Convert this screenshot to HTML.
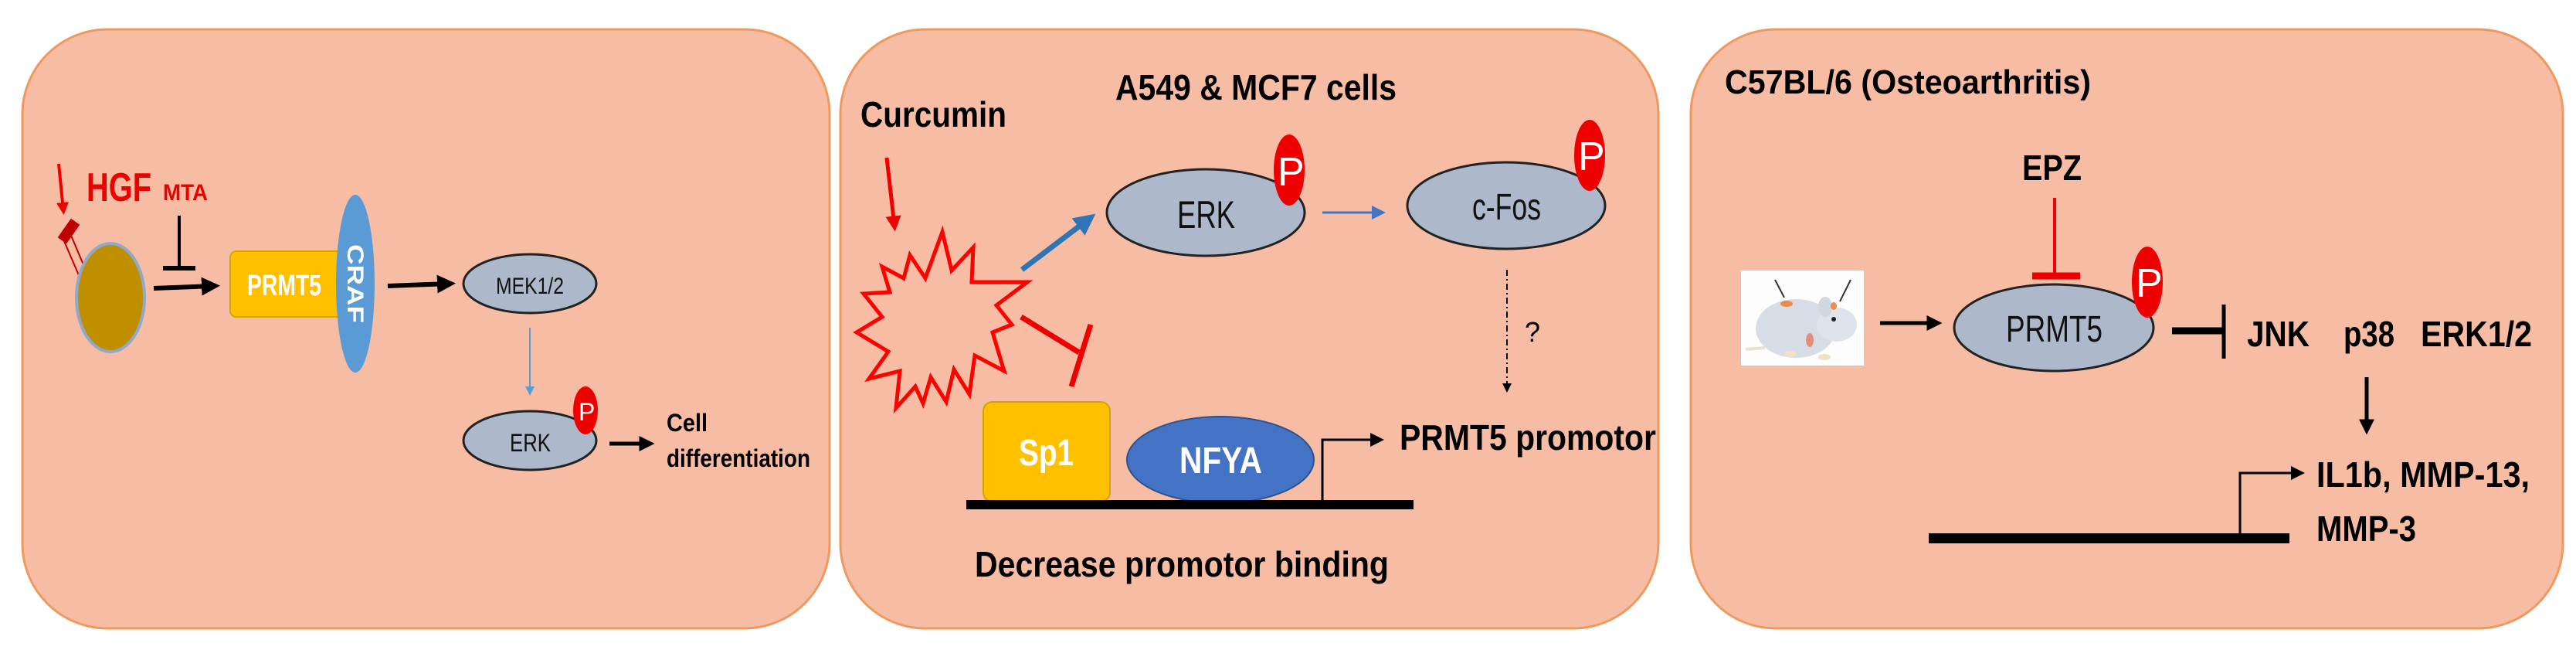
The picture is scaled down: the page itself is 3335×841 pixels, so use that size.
<!DOCTYPE html>
<html><head><meta charset="utf-8"><style>
html,body{margin:0;padding:0;background:#fff;}
svg{display:block;}
text{font-family:"Liberation Sans",Arial,sans-serif;font-weight:bold;}
</style></head><body>
<svg width="3335" height="841" viewBox="0 0 3335 841" xmlns="http://www.w3.org/2000/svg">
<defs>
<marker id="ab" markerWidth="4" markerHeight="4" refX="2.5" refY="2" orient="auto" markerUnits="strokeWidth"><path d="M0,0 L4,2 L0,4 z" fill="#000"/></marker>
<marker id="ar" markerWidth="4" markerHeight="4" refX="2.5" refY="2" orient="auto" markerUnits="strokeWidth"><path d="M0,0 L4,2 L0,4 z" fill="#e00"/></marker>
<marker id="abl" markerWidth="4" markerHeight="4" refX="2.5" refY="2" orient="auto" markerUnits="strokeWidth"><path d="M0,0 L4,2 L0,4 z" fill="#2e75b6"/></marker>
<marker id="abt" markerWidth="6" markerHeight="6" refX="4" refY="3" orient="auto" markerUnits="strokeWidth"><path d="M0,0 L6,3 L0,6 z" fill="#4472c4"/></marker>
<marker id="abtl" markerWidth="6" markerHeight="6" refX="4" refY="3" orient="auto" markerUnits="strokeWidth"><path d="M0,0 L6,3 L0,6 z" fill="#5b9bd5"/></marker>
<marker id="ad" markerWidth="6" markerHeight="6" refX="4" refY="3" orient="auto" markerUnits="strokeWidth"><path d="M0,0 L6,3 L0,6 z" fill="#000"/></marker>
</defs>

<!-- panels -->
<rect x="29" y="38" width="1045" height="775" rx="110" ry="110" fill="#f6bda4" stroke="#f0995e" stroke-width="3"/>
<rect x="1088" y="38" width="1059" height="775" rx="110" ry="110" fill="#f6bda4" stroke="#f0995e" stroke-width="3"/>
<rect x="2189" y="38" width="1129" height="775" rx="110" ry="110" fill="#f6bda4" stroke="#f0995e" stroke-width="3"/>

<!-- ===== Panel 1 ===== -->
<line x1="76" y1="212" x2="82" y2="272" stroke="#e00" stroke-width="4" marker-end="url(#ar)"/>
<line x1="90" y1="300" x2="112" y2="352" stroke="#c00000" stroke-width="2"/>
<line x1="80" y1="305" x2="102" y2="356" stroke="#c00000" stroke-width="2"/>
<rect x="74" y="292" width="30" height="14" fill="#c00000" transform="rotate(-55 89 299)"/>
<ellipse cx="143" cy="385" rx="44" ry="70" fill="#bf8f00" stroke="#8ea9c9" stroke-width="4"/>
<text x="112" y="260" font-size="52" fill="#e00" textLength="84" lengthAdjust="spacingAndGlyphs">HGF</text>
<text x="211" y="259" font-size="30" fill="#e00" textLength="58" lengthAdjust="spacingAndGlyphs">MTA</text>
<line x1="232" y1="279" x2="232" y2="346" stroke="#000" stroke-width="4"/>
<line x1="211" y1="347" x2="253" y2="347" stroke="#000" stroke-width="6"/>
<line x1="199" y1="373" x2="276" y2="370" stroke="#000" stroke-width="6" marker-end="url(#ab)"/>
<rect x="298" y="325" width="148" height="85" rx="8" fill="#ffc000" stroke="#d6a300" stroke-width="2"/>
<text x="320" y="382" font-size="38" fill="#fff" textLength="96" lengthAdjust="spacingAndGlyphs">PRMT5</text>
<ellipse cx="460" cy="367" rx="25" ry="115" fill="#5b9bd5"/>
<text x="0" y="0" font-size="30" fill="#fff" textLength="102" lengthAdjust="spacingAndGlyphs" transform="translate(450 316) rotate(90)">CRAF</text>
<line x1="502" y1="370" x2="581" y2="367" stroke="#000" stroke-width="6" marker-end="url(#ab)"/>
<ellipse cx="686" cy="367" rx="86" ry="38" fill="#adb9ca" stroke="#222" stroke-width="3"/>
<text x="642" y="380" font-size="30" font-weight="normal" fill="#111" textLength="88" lengthAdjust="spacingAndGlyphs" style="font-weight:normal">MEK1/2</text>
<line x1="686" y1="424" x2="686" y2="508" stroke="#5b9bd5" stroke-width="2" marker-end="url(#abtl)"/>
<ellipse cx="686" cy="570" rx="86" ry="38" fill="#adb9ca" stroke="#222" stroke-width="3"/>
<text x="660" y="584" font-size="32" fill="#111" textLength="53" lengthAdjust="spacingAndGlyphs" style="font-weight:normal">ERK</text>
<ellipse cx="758" cy="531" rx="16" ry="31" fill="#e00"/>
<text x="749" y="544" font-size="32" fill="#fff" style="font-weight:normal">P</text>
<line x1="789" y1="574" x2="840" y2="574" stroke="#000" stroke-width="5" marker-end="url(#ab)"/>
<text x="863" y="558" font-size="32" fill="#000" textLength="53" lengthAdjust="spacingAndGlyphs">Cell</text>
<text x="863" y="604" font-size="32" fill="#000" textLength="186" lengthAdjust="spacingAndGlyphs">differentiation</text>

<!-- ===== Panel 2 ===== -->
<text x="1114" y="164" font-size="46" fill="#000" textLength="189" lengthAdjust="spacingAndGlyphs">Curcumin</text>
<text x="1444" y="129" font-size="46" fill="#000" textLength="364" lengthAdjust="spacingAndGlyphs">A549 &amp; MCF7 cells</text>
<line x1="1148" y1="204" x2="1158" y2="292" stroke="#e00" stroke-width="5" marker-end="url(#ar)"/>
<polygon points="1178,330 1198,360 1220,300 1232,350 1260,320 1258,365 1330,365 1290,395 1310,420 1285,430 1300,480 1262,460 1255,510 1235,478 1225,520 1205,488 1195,522 1185,500 1160,528 1165,480 1125,490 1150,455 1109,430 1142,410 1118,380 1152,378 1142,345 1170,360" fill="none" stroke="#ff0000" stroke-width="5" stroke-linejoin="miter"/>
<line x1="1323" y1="349" x2="1410" y2="283" stroke="#2e75b6" stroke-width="7" marker-end="url(#abl)"/>
<line x1="1322" y1="410" x2="1397" y2="456" stroke="#e00" stroke-width="7"/>
<line x1="1412" y1="420" x2="1387" y2="500" stroke="#e00" stroke-width="7"/>
<ellipse cx="1561" cy="275" rx="128" ry="56" fill="#adb9ca" stroke="#222" stroke-width="3"/>
<text x="1524" y="295" font-size="50" fill="#111" textLength="75" lengthAdjust="spacingAndGlyphs" style="font-weight:normal">ERK</text>
<ellipse cx="1669" cy="220" rx="20" ry="46" fill="#e00"/>
<text x="1654" y="240" font-size="52" fill="#fff" style="font-weight:normal">P</text>
<line x1="1712" y1="275" x2="1788" y2="275" stroke="#4472c4" stroke-width="3" marker-end="url(#abt)"/>
<ellipse cx="1950" cy="266" rx="128" ry="56" fill="#adb9ca" stroke="#222" stroke-width="3"/>
<text x="1906" y="284" font-size="48" fill="#111" textLength="89" lengthAdjust="spacingAndGlyphs" style="font-weight:normal">c-Fos</text>
<ellipse cx="2058" cy="201" rx="20" ry="46" fill="#e00"/>
<text x="2043" y="220" font-size="52" fill="#fff" style="font-weight:normal">P</text>
<line x1="1951" y1="349" x2="1951" y2="504" stroke="#000" stroke-width="2" stroke-dasharray="8,4,2,4" marker-end="url(#ad)"/>
<text x="1974" y="442" font-size="36" fill="#000" style="font-weight:normal">?</text>
<rect x="1273" y="520" width="164" height="129" rx="12" fill="#ffc000" stroke="#d6a300" stroke-width="2"/>
<text x="1319" y="602" font-size="48" fill="#fff" textLength="71" lengthAdjust="spacingAndGlyphs">Sp1</text>
<ellipse cx="1580" cy="595" rx="121" ry="56" fill="#4472c4" stroke="#2f528f" stroke-width="2"/>
<text x="1527" y="612" font-size="48" fill="#fff" textLength="107" lengthAdjust="spacingAndGlyphs">NFYA</text>
<rect x="1251" y="647" width="579" height="12" fill="#000"/>
<polyline points="1712,650 1712,569 1786,569" fill="none" stroke="#000" stroke-width="3" marker-end="url(#ad)"/>
<text x="1812" y="582" font-size="46" fill="#000" textLength="332" lengthAdjust="spacingAndGlyphs">PRMT5 promotor</text>
<text x="1262" y="746" font-size="46" fill="#000" textLength="536" lengthAdjust="spacingAndGlyphs">Decrease promotor  binding</text>

<!-- ===== Panel 3 ===== -->
<text x="2233" y="121" font-size="44" fill="#000" textLength="474" lengthAdjust="spacingAndGlyphs">C57BL/6 (Osteoarthritis)</text>
<text x="2618" y="233" font-size="46" fill="#000" textLength="77" lengthAdjust="spacingAndGlyphs">EPZ</text>
<line x1="2660" y1="256" x2="2660" y2="357" stroke="#e00" stroke-width="4"/>
<line x1="2631" y1="357" x2="2693" y2="357" stroke="#e00" stroke-width="9"/>
<!-- mouse -->
<rect x="2254" y="350" width="159" height="123" fill="#fdfdfd"/>
<line x1="2298" y1="362" x2="2310" y2="385" stroke="#333" stroke-width="2"/>
<line x1="2396" y1="362" x2="2382" y2="390" stroke="#333" stroke-width="2"/>
<ellipse cx="2325" cy="425" rx="52" ry="38" fill="#d7dde6"/>
<ellipse cx="2378" cy="420" rx="26" ry="22" fill="#dfe4ec"/>
<ellipse cx="2363" cy="397" rx="9" ry="13" fill="#d0d7e0"/>
<ellipse cx="2313" cy="393" rx="8" ry="4" fill="#f08a4b"/>
<ellipse cx="2374" cy="396" rx="4" ry="5" fill="#f08a4b"/>
<circle cx="2374" cy="413" r="3" fill="#222"/>
<ellipse cx="2343" cy="440" rx="5" ry="9" fill="#e0907a"/>
<line x1="2260" y1="452" x2="2285" y2="450" stroke="#e8e2d0" stroke-width="4"/>
<ellipse cx="2318" cy="458" rx="8" ry="4" fill="#f1e0c4"/>
<ellipse cx="2362" cy="462" rx="8" ry="4" fill="#f1e0c4"/>
<line x1="2434" y1="418" x2="2507" y2="418" stroke="#000" stroke-width="5" marker-end="url(#ab)"/>
<ellipse cx="2659" cy="424" rx="129" ry="56" fill="#adb9ca" stroke="#222" stroke-width="3"/>
<text x="2597" y="442" font-size="48" fill="#111" textLength="125" lengthAdjust="spacingAndGlyphs" style="font-weight:normal">PRMT5</text>
<ellipse cx="2780" cy="365" rx="20" ry="46" fill="#e00"/>
<text x="2765" y="384" font-size="52" fill="#fff" style="font-weight:normal">P</text>
<line x1="2812" y1="428" x2="2878" y2="428" stroke="#000" stroke-width="9"/>
<line x1="2879" y1="394" x2="2879" y2="464" stroke="#000" stroke-width="5"/>
<text x="2909" y="448" font-size="46" fill="#000" textLength="81" lengthAdjust="spacingAndGlyphs">JNK</text>
<text x="3034" y="448" font-size="46" fill="#000" textLength="66" lengthAdjust="spacingAndGlyphs">p38</text>
<text x="3134" y="448" font-size="46" fill="#000" textLength="144" lengthAdjust="spacingAndGlyphs">ERK1/2</text>
<line x1="3064" y1="488" x2="3064" y2="555" stroke="#000" stroke-width="5" marker-end="url(#ab)"/>
<rect x="2497" y="690" width="467" height="13" fill="#000"/>
<polyline points="2900,703 2900,612 2978,612" fill="none" stroke="#000" stroke-width="3" marker-end="url(#ad)"/>
<text x="2999" y="630" font-size="46" fill="#000" textLength="276" lengthAdjust="spacingAndGlyphs">IL1b, MMP-13,</text>
<text x="2999" y="700" font-size="46" fill="#000" textLength="129" lengthAdjust="spacingAndGlyphs">MMP-3</text>
</svg>
</body></html>
